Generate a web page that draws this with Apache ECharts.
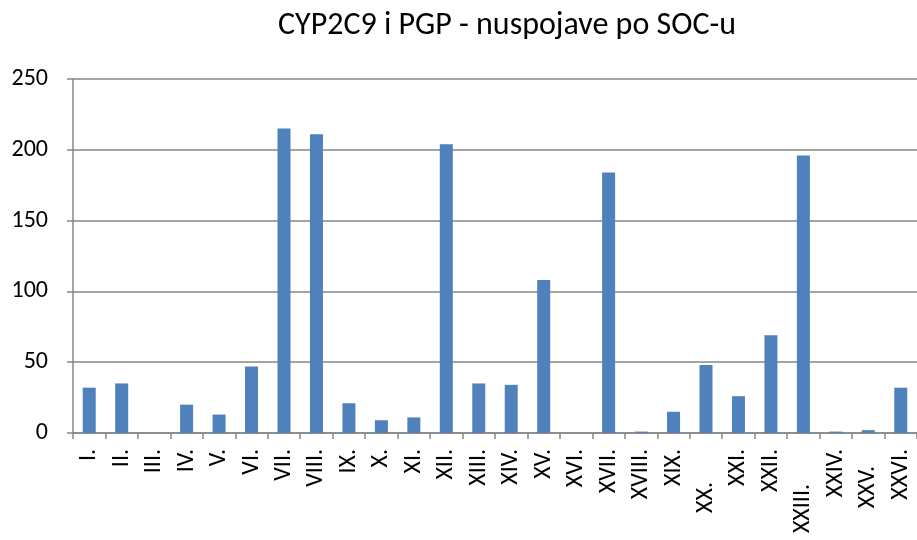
<!DOCTYPE html>
<html>
<head>
<meta charset="utf-8">
<script src="https://cdn.jsdelivr.net/npm/echarts@6/dist/echarts.min.js"></script>
<style>
  html, body { margin: 0; padding: 0; background: #fff; }
  #main { width: 917px; height: 540px; }
</style>
</head>
<body>
<div id="main"></div>
<script>
var categories = ['I.', 'II.', 'III.', 'IV.', 'V.', 'VI.', 'VII.', 'VIII.', 'IX.', 'X.', 'XI.', 'XII.', 'XIII.',
    'XIV.', 'XV.', 'XVI.', 'XVII.', 'XVIII.', 'XIX.', 'XX.', 'XXI.', 'XXII.', 'XXIII.', 'XXIV.', 'XXV.', 'XXVI.'];
var values = [32, 35, 0, 20, 13, 47, 215, 211, 21, 9, 11, 204, 35,
    34, 108, 0, 184, 1, 15, 48, 26, 69, 196, 1, 2, 32];
var yTicks = [0, 50, 100, 150, 200, 250];

// some labels sit lower in the original (excel staggering)
var labelShift = { 'XX.': 33, 'XXIII.': 35, 'XXV.': 17 };

var chart = echarts.init(document.getElementById('main'));
var font = 'Carlito, "Open Sans", "Liberation Sans", sans-serif';

var option = {
    animation: false,
    title: {
        text: 'CYP2C9 i PGP - nuspojave po SOC-u',
        left: 273,
        top: 5,
        textStyle: { fontFamily: font, fontSize: 32, fontWeight: 'normal', color: '#000' }
    },
    grid: { left: 73, top: 79, width: 847, height: 354 },
    xAxis: {
        type: 'category',
        data: categories.map(function (c) {
            var s = labelShift[c] || 0;
            return { value: c, textStyle: { padding: [0, s, 0, 0] } };
        }),
        axisLine: { lineStyle: { color: '#868686', width: 1.5 } },
        axisTick: { show: true, length: 6, lineStyle: { color: '#868686', width: 1.5 } },
        axisLabel: {
            rotate: 90, interval: 0, margin: 16,
            fontFamily: font, fontSize: 24, color: '#000'
        }
    },
    yAxis: {
        type: 'value',
        min: yTicks[0],
        max: yTicks[yTicks.length - 1],
        interval: 50,
        axisLine: { show: true, lineStyle: { color: '#868686', width: 1.5 } },
        axisTick: { show: true, length: 6, lineStyle: { color: '#868686', width: 1.5 } },
        splitLine: { lineStyle: { color: '#868686', width: 1.5 } },
        axisLabel: { margin: 25, fontFamily: font, fontSize: 24, color: '#000' }
    },
    series: [{
        type: 'bar',
        data: values,
        barWidth: 13,
        itemStyle: { color: '#4F81BD' }
    }]
};
chart.setOption(option);
</script>
</body>
</html>
